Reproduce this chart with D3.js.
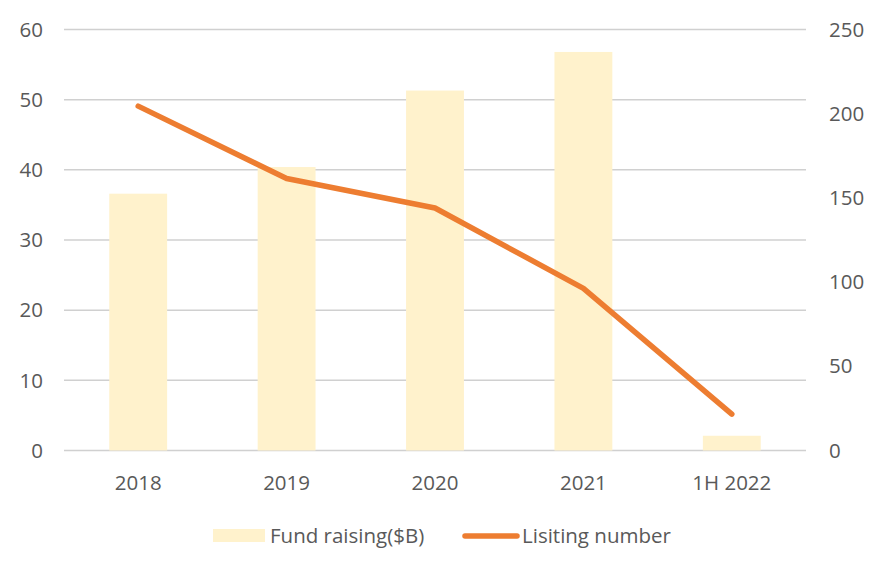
<!DOCTYPE html>
<html>
<head>
<meta charset="utf-8">
<script src="https://cdn.jsdelivr.net/npm/d3@7"></script>
<style>
  body { margin: 0; background: #fff; }
  text { font-family: "Open Sans", sans-serif; fill: #595959; font-size: 20.5px; }
</style>
</head>
<body>
<div id="chart"></div>
<script>
// data
var categories = ["2018", "2019", "2020", "2021", "1H 2022"];
var fundRaising = [36.6, 40.4, 51.3, 56.8, 2.1];
var listingNumber = [204.5, 161.5, 144, 96.3, 21.6];
var leftTicks = [0, 10, 20, 30, 40, 50, 60];
var rightTicks = [0, 50, 100, 150, 200, 250];

var W = 882, H = 574;
var margin = {top: 29.5, right: 76, bottom: 123.5, left: 64},
    width = W - margin.left - margin.right,
    height = H - margin.top - margin.bottom;

var svg = d3.select("#chart")
  .append("svg")
    .attr("width", W)
    .attr("height", H)
  .append("g")
    .attr("transform", "translate(" + margin.left + "," + margin.top + ")");

var x = d3.scaleBand()
  .domain(categories)
  .range([0, width])
  .paddingInner(0.61)
  .paddingOuter(0.305);

var xc = d3.scalePoint()
  .domain(categories)
  .range([0, width])
  .padding(0.5);

var yL = d3.scaleLinear().domain([0, 60]).range([height, 0]);
var yR = d3.scaleLinear().domain([0, 250]).range([height, 0]);

// gridlines
svg.append("g")
  .selectAll("line")
  .data(leftTicks)
  .enter().append("line")
    .attr("x1", 0)
    .attr("x2", width)
    .attr("y1", d => yL(d))
    .attr("y2", d => yL(d))
    .attr("stroke", "#d0d0d0")
    .attr("stroke-width", 1.5);

// bars
svg.append("g")
  .selectAll("rect")
  .data(fundRaising)
  .enter().append("rect")
    .attr("x", (d, i) => x(categories[i]))
    .attr("width", x.bandwidth())
    .attr("y", d => yL(d))
    .attr("height", d => height - yL(d))
    .attr("fill", "#fff2cc");

// line
var line = d3.line()
  .x((d, i) => xc(categories[i]))
  .y(d => yR(d));

svg.append("path")
  .datum(listingNumber)
  .attr("d", line)
  .attr("fill", "none")
  .attr("stroke", "#ed7d31")
  .attr("stroke-width", 5.5)
  .attr("stroke-linejoin", "round")
  .attr("stroke-linecap", "round");

// left axis labels
svg.append("g")
  .selectAll("text")
  .data(leftTicks)
  .enter().append("text")
    .attr("x", -21)
    .attr("y", d => yL(d))
    .attr("dy", "0.35em")
    .attr("text-anchor", "end")
    .text(d => d);

// right axis labels
svg.append("g")
  .selectAll("text")
  .data(rightTicks)
  .enter().append("text")
    .attr("x", width + 23)
    .attr("y", d => yR(d))
    .attr("dy", "0.35em")
    .attr("text-anchor", "start")
    .text(d => d);

// x axis labels
svg.append("g")
  .selectAll("text")
  .data(categories)
  .enter().append("text")
    .attr("x", d => xc(d))
    .attr("y", height + 39)
    .attr("text-anchor", "middle")
    .text(d => d);

// legend
var legend = d3.select("svg").append("g");
legend.append("rect")
  .attr("x", 213).attr("y", 529)
  .attr("width", 52).attr("height", 13)
  .attr("fill", "#fff2cc");
legend.append("text")
  .attr("x", 270).attr("y", 543)
  .text("Fund raising($B)");
legend.append("line")
  .attr("x1", 465).attr("x2", 517)
  .attr("y1", 536).attr("y2", 536)
  .attr("stroke", "#ed7d31")
  .attr("stroke-width", 5.5)
  .attr("stroke-linecap", "round");
legend.append("text")
  .attr("x", 522).attr("y", 543)
  .text("Lisiting number");
</script>
</body>
</html>
